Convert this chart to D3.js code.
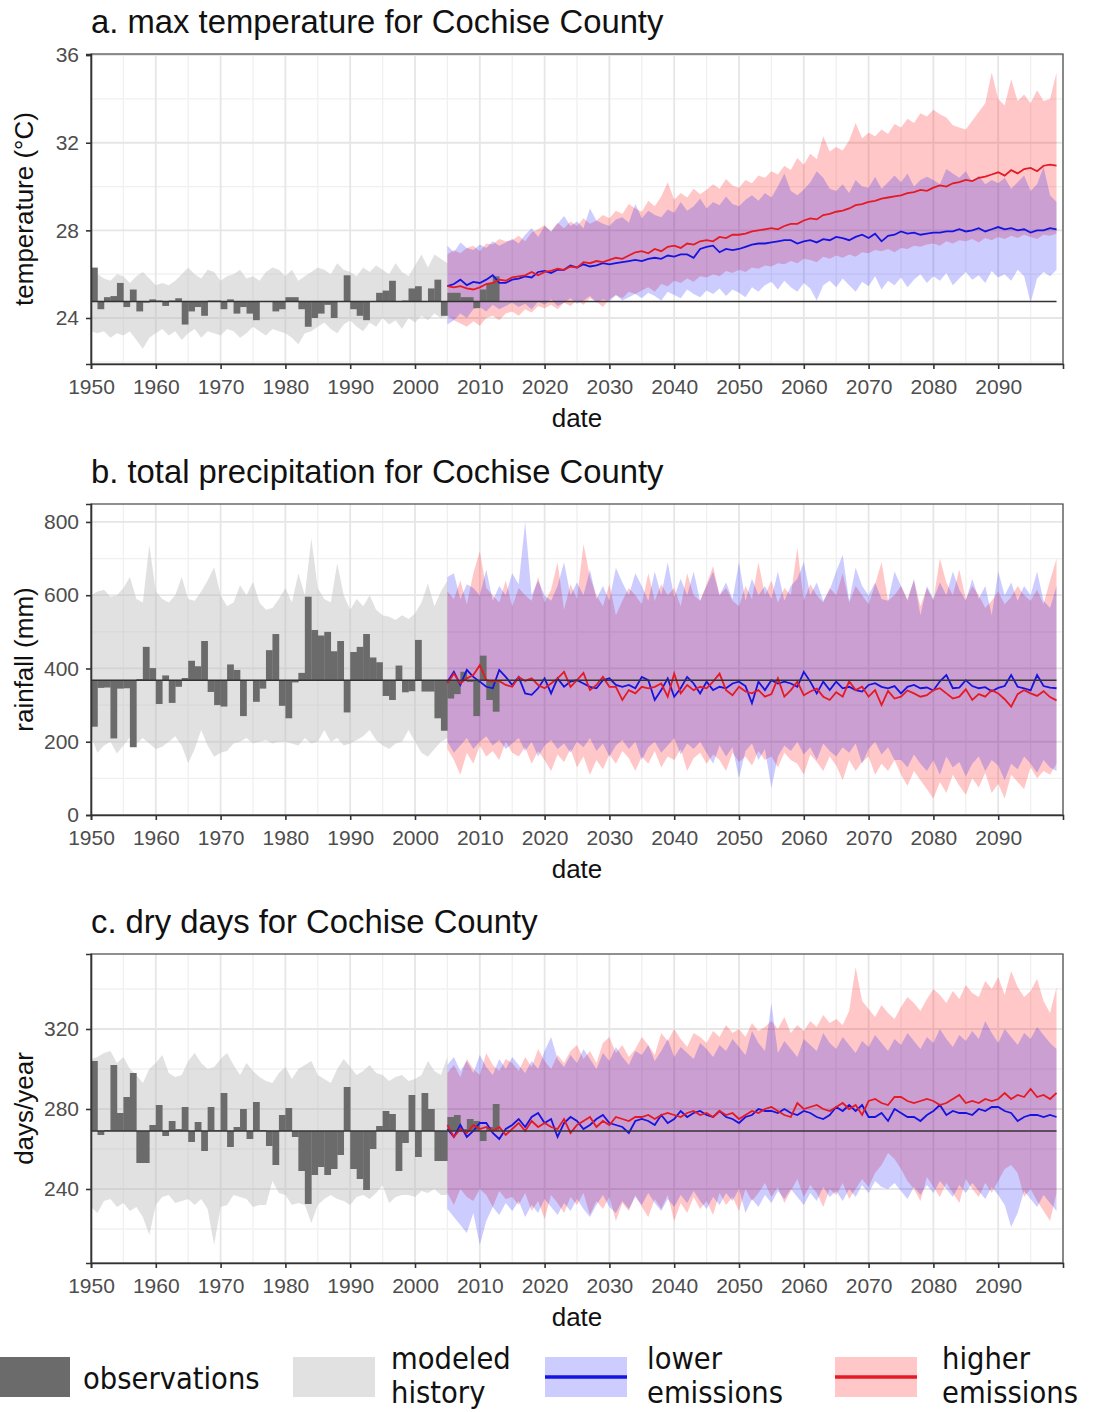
<!DOCTYPE html>
<html>
<head>
<meta charset="utf-8">
<script src="https://cdn.jsdelivr.net/npm/d3@7"></script>
<style>
  body { margin: 0; background: #fff; }
  svg { display: block; }
</style>
</head>
<body>
<svg width="1095" height="1412"></svg>
<script>
// first year of each kind of series
var obsStart = 1950, histStart = 1950, projStart = 2005;

var yearTicks = [1950, 1960, 1970, 1980, 1990, 2000, 2010, 2020, 2030, 2040, 2050, 2060, 2070, 2080, 2090];

// ---- a. max temperature (°C) ----
var tempTicks = [24, 28, 32, 36];
var tempBase = 24.75;
var tempObs = [
  26.3, 24.4, 24.95, 25.0, 25.6, 24.5, 25.3, 24.3, 24.7, 24.85,
  24.8, 24.55, 24.8, 24.9, 23.7, 24.3, 24.5, 24.1, 24.8, 24.8,
  24.4, 24.85, 24.2, 24.5, 24.2, 23.9, 24.75, 24.75, 24.3, 24.4,
  24.95, 24.95, 24.4, 23.6, 24.0, 24.2, 24.6, 24.0, 24.75, 25.95,
  24.4, 24.1, 23.9, 24.75, 25.15, 25.25, 25.7, 24.75, 24.8, 25.35,
  25.45, 24.75, 25.35, 25.75, 24.1, 25.15, 25.15, 24.95, 24.95, 24.45,
  25.3, 25.6, 25.9];
var tempHistLow = [
  23.4, 23.3, 23.4, 23.1, 23.3, 23.2, 23.4, 23.0, 22.6, 23.1,
  23.3, 23.5, 23.2, 23.4, 23.0, 23.3, 23.5, 23.1, 23.4, 23.3,
  23.2, 23.5, 23.4, 23.1, 23.3, 23.6, 23.4, 23.2, 23.5, 23.4,
  23.3, 23.1, 22.8, 23.3, 23.4, 23.6, 23.8, 23.5, 23.3, 23.7,
  23.9, 23.6, 23.4, 23.8, 23.6, 24.0, 23.7, 23.9, 23.5, 24.0,
  23.8, 24.1, 23.9, 24.2, 24.0, 24.1];
var tempHistHigh = [
  25.9, 26.0, 25.8, 25.7, 26.0, 25.9, 25.6, 25.9, 26.1, 25.8,
  25.5, 25.6, 25.5, 25.7, 26.0, 26.3, 26.0, 25.8, 26.2, 26.1,
  25.7, 25.9, 26.0, 26.2, 25.8, 25.9, 25.7, 26.1, 26.3, 26.2,
  25.9, 26.2, 25.7, 25.9, 26.1, 26.3, 26.2, 26.0, 26.5, 26.2,
  26.1, 25.9, 26.3, 26.1, 26.4, 26.2, 26.0, 26.5, 26.1, 25.9,
  26.4, 26.9, 26.3, 26.9, 26.7, 26.5];
var tempLowerMid = [
  25.45, 25.55, 25.75, 25.5, 25.65, 25.6, 25.75, 25.95, 25.6, 25.6,
  25.75, 25.8, 25.9, 25.85, 26.1, 26.15, 26.05, 26.2, 26.2, 26.4,
  26.3, 26.45, 26.35, 26.4, 26.5, 26.45, 26.5, 26.55, 26.6, 26.65,
  26.6, 26.7, 26.75, 26.7, 26.85, 26.8, 26.9, 26.9, 26.75, 27.15,
  27.25, 27.3, 27.0, 27.15, 27.1, 27.15, 27.25, 27.35, 27.4, 27.4,
  27.45, 27.5, 27.55, 27.55, 27.4, 27.5, 27.55, 27.45, 27.6, 27.55,
  27.7, 27.65, 27.55, 27.7, 27.8, 27.65, 27.85, 27.5, 27.75, 27.8,
  27.95, 27.85, 27.9, 27.8, 27.85, 27.9, 27.9, 27.95, 27.95, 28.05,
  27.95, 28.0, 28.1, 27.95, 28.05, 28.15, 28.05, 28.1, 28.0, 28.05,
  27.9, 28.0, 28.0, 28.1, 28.05];
var tempLowerLow = [
  23.7, 23.9, 24.2, 24.0, 24.4, 24.5, 24.3, 24.6, 24.4, 24.55,
  24.7, 24.5, 24.65, 24.4, 24.75, 24.6, 24.85, 24.55, 24.7, 24.9,
  24.65, 24.8, 25.0, 24.7, 24.85, 24.75, 25.05, 24.8, 24.95, 25.1,
  24.9, 25.15, 25.0, 24.8, 25.2, 25.05, 24.9, 25.3, 25.1, 24.95,
  25.25, 25.1, 25.35, 25.0, 25.3, 25.15, 24.95, 25.4, 25.2, 25.5,
  25.65, 25.3, 25.7, 25.4, 25.2, 25.6, 25.35, 24.8, 25.5, 25.7,
  25.4, 25.8, 25.5, 25.2, 25.65, 25.45, 25.9, 25.3, 25.7, 25.5,
  25.85, 25.4, 25.75, 26.0, 25.6, 25.9, 25.7, 26.05, 25.5, 25.8,
  26.1, 25.75, 25.95, 25.6, 26.15, 25.85, 26.0, 25.7, 26.2, 25.9,
  24.7, 25.8, 26.1, 25.9, 26.2];
var tempLowerHigh = [
  27.3, 27.0, 27.45, 27.2, 27.1, 27.35, 27.2, 27.5, 27.3, 27.45,
  27.6, 27.4, 27.8, 28.1, 27.7, 28.2, 27.95, 28.3, 28.65, 28.2,
  28.4, 28.1, 29.0, 28.45, 28.3, 28.2, 28.5, 28.6, 28.35, 29.2,
  28.55, 28.9, 28.7, 28.6, 28.95, 28.8, 29.3, 28.9, 29.1, 29.45,
  29.0, 29.3, 29.15, 29.55, 29.2, 29.1, 29.4, 29.6, 29.35, 29.7,
  29.5, 30.0, 30.6, 29.8, 29.6, 29.85, 30.2, 30.7, 30.4, 29.9,
  29.8, 30.1, 29.7, 30.3, 30.0, 29.95, 30.45, 29.9, 30.2, 30.5,
  30.2, 30.6, 30.0, 30.3, 30.45, 30.3, 30.1, 30.8, 30.6, 30.4,
  30.7, 30.2, 30.5, 30.1, 30.3, 30.15, 30.4, 29.9, 30.2, 30.5,
  29.8, 30.1, 30.9, 29.6, 29.3];
var tempHigherMid = [
  25.45, 25.4, 25.45, 25.35, 25.3, 25.4, 25.55, 25.6, 25.75, 25.7,
  25.85, 25.9, 25.95, 26.1, 25.95, 26.1, 26.15, 26.25, 26.2, 26.35,
  26.3, 26.55, 26.5, 26.6, 26.55, 26.65, 26.75, 26.7, 26.85, 27.0,
  27.05, 26.95, 27.15, 27.05, 27.25, 27.3, 27.2, 27.4, 27.35, 27.5,
  27.55, 27.5, 27.7, 27.65, 27.8, 27.8, 27.85, 27.95, 28.0, 28.05,
  28.1, 28.05, 28.2, 28.3, 28.3, 28.45, 28.55, 28.5, 28.7, 28.75,
  28.85, 28.9, 29.0, 29.15, 29.2, 29.3, 29.35, 29.45, 29.5, 29.55,
  29.6, 29.7, 29.75, 29.85, 29.8, 29.95, 30.05, 30.0, 30.15, 30.2,
  30.3, 30.25, 30.4, 30.45, 30.55, 30.65, 30.5, 30.75, 30.6, 30.8,
  30.85, 30.7, 30.95, 31.0, 30.95];
var tempHigherLow = [
  24.1, 23.9, 23.75, 23.6, 23.85, 23.65, 24.0, 24.1, 23.9, 24.2,
  24.3, 24.1, 24.4, 24.25, 24.55, 24.45, 24.6, 24.4, 24.7, 24.55,
  24.8, 24.6, 24.9, 24.75, 24.5, 24.85, 25.05, 24.9, 25.2, 25.1,
  25.25, 25.4, 25.2, 25.55, 25.45, 25.7, 25.6, 25.8, 25.65, 25.9,
  25.85, 26.0, 25.9, 26.15, 26.05, 26.2, 26.1, 26.3, 26.25, 26.4,
  26.35, 26.5, 26.45, 26.6, 26.5, 26.7, 26.65, 26.55, 26.8, 26.7,
  26.85, 26.75, 26.9, 26.8, 27.0, 26.95, 27.1, 27.05, 27.15, 27.0,
  27.2, 27.15, 27.3, 27.25, 27.35, 27.4, 27.3, 27.5, 27.4, 27.55,
  27.5, 27.6, 27.45, 27.65, 27.55, 27.7, 27.6, 27.75, 27.65, 27.8,
  27.7, 27.6, 27.8, 27.75, 27.85];
var tempHigherHigh = [
  26.9, 27.1, 26.95, 27.2, 27.3, 27.05, 27.4, 27.35, 27.6, 27.5,
  27.55, 27.75, 27.5, 27.9, 28.05, 28.25, 27.95, 28.35, 28.1, 28.4,
  28.2, 28.55, 28.3, 28.45, 28.7, 28.55, 28.9, 28.75, 29.2, 29.0,
  28.85, 29.35, 29.1, 29.55, 30.2, 29.4, 29.7, 29.5, 29.9, 29.65,
  29.85, 30.1, 29.9, 30.35, 30.05, 29.95, 30.3, 30.15, 30.5, 30.4,
  30.7, 30.55, 30.95, 30.75, 31.3, 31.0, 31.5, 31.25, 32.3, 31.6,
  31.8, 31.65, 32.1, 32.9, 32.2, 32.45, 32.3, 32.6, 32.4, 32.85,
  32.7, 33.1, 32.9, 33.35, 33.2, 33.5, 33.3, 33.15, 32.8, 32.7,
  32.6, 33.0, 33.4, 33.8, 35.2, 34.0, 33.7, 34.9, 33.9, 34.2,
  33.8, 34.4, 33.9, 34.0, 35.2];

// ---- b. total precipitation (mm) ----
var rainTicks = [0, 200, 400, 600, 800];
var rainBase = 368;
var rainObs = [
  241, 347, 348, 209, 345, 346, 185, 371, 459, 401,
  303, 381, 306, 350, 374, 421, 406, 475, 336, 300,
  296, 411, 396, 270, 368, 309, 345, 450, 494, 298,
  264, 362, 388, 596, 505, 490, 500, 447, 475, 280,
  445, 459, 494, 430, 417, 325, 314, 408, 335, 338,
  478, 337, 337, 264, 230, 318, 330, 391, 363, 270,
  435, 314, 282];
var rainHistLow = [
  215, 170, 190, 200, 168, 190, 212, 195, 210, 195,
  180, 186, 200, 215, 190, 141, 180, 232, 190, 159,
  170, 175, 195, 200, 210, 195, 200, 205, 195, 200,
  200, 195, 190, 210, 195, 200, 232, 200, 210, 190,
  195, 205, 215, 232, 205, 190, 180, 195, 200, 232,
  200, 170, 159, 180, 200, 210];
var rainHistHigh = [
  600, 610, 615, 596, 600, 620, 650, 590, 580, 737,
  610, 590, 580, 600, 650, 590, 585, 610, 640, 676,
  600, 570, 580, 627, 600, 637, 580, 560, 565, 590,
  620, 580, 659, 600, 755, 620, 590, 580, 687, 600,
  560, 590, 570, 600, 560, 545, 541, 532, 545, 535,
  550, 580, 632, 570, 610, 640];
var rainLowerMid = [
  364, 391, 355, 396, 377, 364, 350, 346, 396, 377,
  355, 377, 332, 328, 346, 373, 332, 373, 350, 364,
  368, 359, 350, 346, 368, 373, 355, 350, 355, 346,
  377, 368, 314, 341, 373, 323, 346, 377, 359, 332,
  364, 341, 350, 346, 359, 364, 352, 305, 364, 341,
  368, 359, 364, 359, 350, 391, 364, 332, 364, 341,
  364, 346, 350, 341, 337, 355, 360, 350, 346, 352,
  332, 350, 355, 346, 348, 340, 365, 382, 346, 348,
  368, 352, 346, 349, 338, 347, 352, 382, 350, 346,
  340, 382, 352, 348, 346];
var rainLowerLow = [
  200, 170, 190, 210, 180, 200, 215, 190, 205, 180,
  195, 210, 175, 200, 160, 190, 205, 180, 195, 170,
  200, 185, 210, 175, 195, 160, 190, 205, 180, 200,
  150, 185, 200, 170, 190, 210, 165, 195, 180, 200,
  170, 140, 190, 160, 185, 100, 175, 195, 150, 180,
  73, 160, 190, 175, 200, 165, 185, 150, 195, 175,
  160, 185, 170, 195, 140, 180, 200, 165, 185, 150,
  150, 130, 165, 140, 120, 150, 110, 160, 130, 145,
  105, 140, 160, 120, 150, 135, 95, 140, 125, 160,
  140, 115, 150, 130, 120];
var rainLowerHigh = [
  650, 660, 590, 630, 620, 600, 670, 585, 625, 600,
  660, 630, 800, 600, 640, 600, 585, 625, 690, 600,
  635, 600, 670, 590, 625, 585, 675, 635, 600, 660,
  625, 585, 665, 600, 690, 595, 645, 600, 665, 585,
  625, 665, 600, 635, 590, 690, 585, 645, 600, 625,
  590, 665, 585, 625, 645, 690, 600, 635, 585, 615,
  665, 710, 585, 675, 625, 600, 635, 590, 585, 665,
  625, 585, 645, 545, 625, 590, 635, 600, 665, 615,
  585, 645, 590, 625, 545, 665, 600, 635, 585, 625,
  600, 665, 585, 565, 625];
var rainHigherMid = [
  359, 386, 359, 373, 382, 409, 368, 364, 366, 355,
  350, 377, 366, 373, 355, 346, 359, 373, 391, 350,
  368, 388, 341, 355, 377, 350, 350, 314, 341, 332,
  350, 346, 350, 359, 323, 386, 332, 355, 341, 350,
  346, 364, 386, 341, 327, 350, 337, 332, 341, 323,
  330, 373, 323, 341, 364, 327, 337, 345, 323, 314,
  335, 323, 365, 341, 350, 323, 341, 300, 339, 318,
  323, 340, 332, 323, 327, 341, 346, 332, 318, 323,
  343, 314, 330, 323, 341, 332, 316, 296, 330, 341,
  332, 325, 338, 322, 313];
var rainHigherLow = [
  180, 150, 110, 170, 140, 190, 160, 175, 150, 200,
  170, 160, 185, 140, 175, 150, 120, 165, 145, 180,
  130, 160, 110, 150, 125, 165, 140, 175, 155, 120,
  160, 140, 175, 130, 160, 150, 180, 120, 155, 170,
  140, 165, 150, 120, 170, 145, 160, 135, 175, 150,
  160, 130, 170, 150, 140, 110, 165, 145, 120, 160,
  135, 95, 150, 120, 145, 160, 110, 140, 120, 150,
  110, 80, 120, 95, 70, 45, 90, 60, 110, 80,
  55, 100, 75, 115, 60, 85, 45, 110, 90, 70,
  130, 100, 120, 110, 140];
var rainHigherHigh = [
  610, 590, 640, 575, 660, 720, 620, 600, 580, 640,
  570, 620, 600, 585, 650, 580, 615, 690, 560, 630,
  590, 740, 650, 600, 570, 630, 545, 585, 620, 600,
  575, 660, 585, 630, 600, 620, 570, 660, 600, 585,
  630, 680, 600, 620, 585, 570, 625, 590, 690, 600,
  640, 580, 620, 600, 730, 585, 630, 600, 580, 620,
  600, 660, 580, 625, 600, 575, 630, 690, 585, 600,
  625, 590, 640, 570, 620, 585, 700, 635, 600, 670,
  590, 625, 600, 565, 585, 610, 575, 595, 625, 600,
  585, 615, 575, 640, 700];

// ---- c. dry days (days/year) ----
var dryTicks = [240, 280, 320];
var dryBase = 269;
var dryObs = [
  304, 267, 269.5, 302, 278, 286, 298, 253, 253, 272,
  282, 266.5, 274, 270, 281, 263.5, 273.5, 259, 281, 269.5,
  288, 261, 271, 280, 265, 283.5, 269.5, 261.5, 252, 277,
  280.5, 266, 249, 232.5, 247, 251, 247, 250, 257, 291,
  250, 245, 239.5, 260, 271.5, 279, 277.5, 249, 263, 287,
  256, 288, 280, 254, 254, 276, 277, 270, 275, 274,
  264, 271, 282.5];
var dryHistLow = [
  231, 228, 234, 235, 231, 233, 229, 231, 226, 217,
  232, 236, 237, 233, 234, 235, 232, 235, 230, 212,
  231, 232, 237, 236, 235, 231, 232, 232, 244, 238,
  237, 232, 233, 232, 223, 232, 235, 237, 235, 234,
  232, 236, 237, 235, 238, 242, 233, 236, 237, 237,
  236, 239, 238, 240, 237, 237];
var dryHistHigh = [
  305, 306, 308, 309, 303, 306, 300, 297, 293, 300,
  303, 307, 298, 296, 297, 304, 308, 303, 300, 301,
  305, 308, 302, 297, 303, 299, 296, 294, 293, 298,
  301, 295, 300, 302, 304, 297, 295, 293, 300, 305,
  301, 297, 299, 302, 298, 297, 294, 296, 297, 294,
  295, 297, 304, 299, 297, 306];
var dryLowerMid = [
  270, 266, 272, 266, 269, 273, 273, 268, 265, 270,
  272, 275, 271, 276, 278, 273, 275, 266, 273, 276,
  274, 270, 272, 275, 277, 273, 272, 271, 268, 274,
  275, 274, 272, 277, 273, 275, 279, 276, 278, 279,
  277, 276, 279, 276, 275, 273, 276, 277, 280, 279,
  279, 278, 280, 278, 277, 279, 278, 276, 275, 277,
  281, 279, 282, 279, 282, 276, 276, 278, 274, 280,
  278, 276, 276, 274, 277, 279, 282, 277, 279, 278,
  278, 277, 280, 279, 281, 281, 279, 278, 274, 276,
  277, 277, 276, 277, 276];
var dryLowerLow = [
  230, 226, 222, 218, 228, 212, 224, 231, 227, 233,
  229, 234, 226, 232, 228, 235, 231, 227, 233, 229,
  235, 230, 226, 232, 237, 231, 228, 234, 230, 236,
  232, 238, 233, 229, 235, 231, 237, 233, 239, 234,
  230, 236, 232, 238, 234, 240, 228, 235, 231, 237,
  233, 239, 235, 240, 236, 232, 238, 234, 241, 236,
  239, 234, 240, 236, 242, 238, 244, 241, 240, 243,
  239, 235, 241, 237, 242, 238, 244, 240, 236, 242,
  238, 243, 239, 235, 241, 237, 232, 221, 228, 239,
  235, 231, 237, 233, 229];
var dryLowerHigh = [
  302, 306, 299, 304, 298, 307, 301, 297, 305, 300,
  306, 302, 298, 304, 300, 309, 316, 305, 301, 307,
  303, 310, 305, 300, 308, 304, 311, 306, 302, 309,
  307, 312, 304, 309, 315, 306, 311, 308, 305, 313,
  310, 306, 312, 309, 315, 311, 307, 319, 313, 309,
  333, 308, 314, 310, 306, 315, 312, 309, 318, 313,
  310, 316, 312, 308, 314, 311, 317, 313, 309, 315,
  312, 318, 314, 310, 316, 313, 320, 315, 311, 317,
  314, 319, 315, 324, 318, 313, 320, 316, 312, 318,
  315, 321, 317, 313, 310];
var dryHigherMid = [
  272, 266, 270, 268, 272, 270, 271, 269, 271, 267,
  270, 273, 269, 274, 271, 273, 271, 270, 275, 268,
  272, 274, 276, 271, 274, 272, 276, 275, 274, 276,
  276, 277, 275, 277, 278, 277, 276, 278, 279, 277,
  278, 276, 279, 277, 278, 275, 277, 279, 278, 280,
  281, 279, 277, 276, 283, 280, 281, 282, 280, 279,
  281, 283, 280, 282, 277, 284, 285, 283, 282, 286,
  286, 284, 283, 284, 285, 284, 282, 283, 285, 287,
  283, 284, 283, 285, 284, 285, 288, 285, 287, 286,
  290, 286, 287, 285, 288];
var dryHigherLow = [
  238, 232, 240, 236, 234, 240, 237, 231, 239, 235,
  236, 232, 238, 229, 234, 225, 237, 233, 228, 236,
  232, 238, 227, 234, 230, 236, 224, 233, 229, 237,
  231, 226, 235, 230, 237, 224, 233, 228, 236, 230,
  234, 227, 238, 232, 236, 229, 240, 234, 238, 243,
  236, 241, 233, 239, 245, 236, 242, 238, 231, 240,
  237, 243, 235, 240, 245, 241, 248, 252, 258, 255,
  250, 244, 240, 234, 246, 241, 236, 243, 238, 233,
  245, 240, 236, 243, 238, 244, 250, 252, 248, 236,
  240, 234, 229, 224, 238];
var dryHigherHigh = [
  298, 302, 296, 305, 300, 297, 308, 302, 299, 305,
  303, 299, 306, 301, 310, 304, 300, 307, 303, 309,
  312, 305, 309, 303, 313, 316, 308, 312, 306, 310,
  316, 312, 307, 318, 314, 320, 315, 311, 318, 316,
  313, 319, 316, 322, 318, 320, 316, 323, 319, 321,
  324, 320, 326, 318, 322, 319, 324, 321, 327, 323,
  325, 322, 329, 351, 334, 330, 326, 332, 328, 325,
  331, 336, 333, 329, 335, 340, 337, 333, 339, 335,
  342, 338, 336, 344, 340, 346, 337, 349, 341, 336,
  339, 345, 334, 328, 341];

var legendLabels = [["observations"], ["modeled", "history"], ["lower", "emissions"], ["higher", "emissions"]];

// ---- layout ----
var svg = d3.select("svg");
var left = 91, right = 1063;
var font = "'Liberation Sans', Arial, Helvetica, sans-serif";

var colObs = "#6b6b6b", colHist = "#bdbdbd",
    colLow = "#0000ff", colHigh = "#ff0000",
    lineLow = "#1414e0", lineHigh = "#e41a24";

var panels = [
  {title: "a. max temperature for Cochise County", ylab: "temperature (°C)",
   top: 54, bottom: 364, domain: [21.9, 36.05], ticks: tempTicks, minor: [22, 26, 30, 34], base: tempBase,
   obs: tempObs, hist: [tempHistLow, tempHistHigh],
   lower: [tempLowerLow, tempLowerHigh, tempLowerMid], higher: [tempHigherLow, tempHigherHigh, tempHigherMid]},
  {title: "b. total precipitation for Cochise County", ylab: "rainfall (mm)",
   top: 504, bottom: 815, domain: [0, 849], ticks: rainTicks, minor: [100, 300, 500, 700], base: rainBase,
   obs: rainObs, hist: [rainHistLow, rainHistHigh],
   lower: [rainLowerLow, rainLowerHigh, rainLowerMid], higher: [rainHigherLow, rainHigherHigh, rainHigherMid]},
  {title: "c. dry days for Cochise County", ylab: "days/year",
   top: 954, bottom: 1263, domain: [203, 357.5], ticks: dryTicks, minor: [220, 260, 300, 340], base: dryBase,
   obs: dryObs, hist: [dryHistLow, dryHistHigh],
   lower: [dryLowerLow, dryLowerHigh, dryLowerMid], higher: [dryHigherLow, dryHigherHigh, dryHigherMid]}
];

var x = d3.scaleLinear().domain([1950, 2100]).range([left, right]);
var minorYears = d3.range(1955, 2100, 10);

panels.forEach(function(p, i) {
  var y = d3.scaleLinear().domain(p.domain).range([p.bottom, p.top]);
  var g = svg.append("g");

  g.append("clipPath").attr("id", "clip" + i)
    .append("rect").attr("x", left).attr("y", p.top).attr("width", right - left).attr("height", p.bottom - p.top);

  // grid
  var grid = g.append("g");
  grid.selectAll(".mx").data(minorYears).enter().append("line")
    .attr("x1", function(d) { return x(d); }).attr("x2", function(d) { return x(d); })
    .attr("y1", p.top).attr("y2", p.bottom)
    .attr("stroke", "#f0f0f0").attr("stroke-width", 1.3);
  grid.selectAll(".my").data(p.minor).enter().append("line")
    .attr("x1", left).attr("x2", right)
    .attr("y1", function(d) { return y(d); }).attr("y2", function(d) { return y(d); })
    .attr("stroke", "#f0f0f0").attr("stroke-width", 1.3);
  grid.selectAll(".gx").data(yearTicks.concat([2100])).enter().append("line")
    .attr("x1", function(d) { return x(d); }).attr("x2", function(d) { return x(d); })
    .attr("y1", p.top).attr("y2", p.bottom)
    .attr("stroke", "#e6e6e6").attr("stroke-width", 1.8);
  grid.selectAll(".gy").data(p.ticks).enter().append("line")
    .attr("x1", left).attr("x2", right)
    .attr("y1", function(d) { return y(d); }).attr("y2", function(d) { return y(d); })
    .attr("stroke", "#e6e6e6").attr("stroke-width", 1.8);

  var plot = g.append("g").attr("clip-path", "url(#clip" + i + ")");

  // modeled history band
  var histArea = d3.area()
    .x(function(d, k) { return x(histStart + k); })
    .y0(function(d) { return y(d[0]); })
    .y1(function(d) { return y(d[1]); });
  plot.append("path").datum(d3.zip(p.hist[0], p.hist[1]))
    .attr("d", histArea).attr("fill", colHist).attr("fill-opacity", 0.45);

  // projection bands: higher first, lower on top
  var projArea = d3.area()
    .x(function(d, k) { return x(projStart + k); })
    .y0(function(d) { return y(d[0]); })
    .y1(function(d) { return y(d[1]); });
  plot.append("path").datum(d3.zip(p.higher[0], p.higher[1]))
    .attr("d", projArea).attr("fill", colHigh).attr("fill-opacity", 0.22);
  plot.append("path").datum(d3.zip(p.lower[0], p.lower[1]))
    .attr("d", projArea).attr("fill", colLow).attr("fill-opacity", 0.2);

  // observations as bars from the baseline
  plot.selectAll(".bar").data(p.obs).enter().append("rect")
    .attr("x", function(d, k) { return x(obsStart + k); })
    .attr("width", function(d, k) { return x(obsStart + k + 1) - x(obsStart + k) + 0.3; })
    .attr("y", function(d) { return Math.min(y(d), y(p.base)); })
    .attr("height", function(d) { return Math.abs(y(d) - y(p.base)); })
    .attr("fill", colObs);

  // mean lines
  var line = d3.line()
    .x(function(d, k) { return x(projStart + k); })
    .y(function(d) { return y(d); });
  plot.append("path").datum(p.lower[2]).attr("d", line)
    .attr("fill", "none").attr("stroke", lineLow).attr("stroke-width", 1.8);
  plot.append("path").datum(p.higher[2]).attr("d", line)
    .attr("fill", "none").attr("stroke", lineHigh).attr("stroke-width", 1.8);

  // baseline
  plot.append("line")
    .attr("x1", x(1950)).attr("x2", x(2099))
    .attr("y1", y(p.base)).attr("y2", y(p.base))
    .attr("stroke", "#333").attr("stroke-width", 1.6);

  // panel border
  g.append("rect").attr("x", left).attr("y", p.top)
    .attr("width", right - left).attr("height", p.bottom - p.top)
    .attr("fill", "none").attr("stroke", "#555").attr("stroke-width", 1.3);

  // axes
  var xAxis = d3.axisBottom(x).tickValues(yearTicks).tickFormat(d3.format("d")).tickSize(5).tickPadding(4);
  var xa = g.append("g").attr("transform", "translate(0," + p.bottom + ")").call(xAxis);
  var yAxis = d3.axisLeft(y).tickValues(p.ticks).tickSize(5).tickPadding(7);
  var ya = g.append("g").attr("transform", "translate(" + left + ",0)").call(yAxis);
  [xa, ya].forEach(function(a) {
    a.select(".domain").attr("stroke", "#333").attr("stroke-width", 1.6);
    a.selectAll(".tick line").attr("stroke", "#333").attr("stroke-width", 1.6);
    a.selectAll(".tick text").attr("fill", "#4d4d4d")
      .style("font-family", font).style("font-size", "21px");
  });
  xa.selectAll(".tick text").attr("dy", "1.0em");

  // titles
  g.append("text").attr("x", left).attr("y", p.top - 21)
    .style("font-family", font).style("font-size", "32.8px").attr("fill", "#111")
    .text(p.title);
  g.append("text").attr("x", (left + right) / 2).attr("y", p.bottom + 63)
    .attr("text-anchor", "middle")
    .style("font-family", font).style("font-size", "26px").attr("fill", "#111")
    .text("date");
  g.append("text")
    .attr("transform", "translate(33," + (p.top + p.bottom) / 2 + ") rotate(-90)")
    .attr("text-anchor", "middle")
    .style("font-family", font).style("font-size", "26px").attr("fill", "#111")
    .text(p.ylab);
});

// ---- legend ----
var lg = svg.append("g").style("font-family", "'DejaVu Sans Condensed', 'DejaVu Sans', sans-serif")
  .style("font-size", "30.5px").style("font-stretch", "condensed");
var keys = [
  {x: 0, w: 70, fill: colObs, op: 1, tx: 83},
  {x: 293, w: 82, fill: colHist, op: 0.45, tx: 391},
  {x: 545, w: 82, fill: colLow, op: 0.2, tx: 647, line: lineLow},
  {x: 835, w: 82, fill: colHigh, op: 0.22, tx: 942, line: lineHigh}
];
keys.forEach(function(k, i) {
  lg.append("rect").attr("x", k.x).attr("y", 1357).attr("width", k.w).attr("height", 40)
    .attr("fill", k.fill).attr("fill-opacity", k.op);
  if (k.line) {
    lg.append("line").attr("x1", k.x).attr("x2", k.x + k.w).attr("y1", 1377).attr("y2", 1377)
      .attr("stroke", k.line).attr("stroke-width", 3.5);
  }
  var lab = legendLabels[i];
  if (lab.length === 1) {
    lg.append("text").attr("x", k.tx).attr("y", 1389).attr("fill", "#111").text(lab[0]);
  } else {
    lg.append("text").attr("x", k.tx).attr("y", 1369).attr("fill", "#111").text(lab[0]);
    lg.append("text").attr("x", k.tx).attr("y", 1403).attr("fill", "#111").text(lab[1]);
  }
});
</script>
</body>
</html>
